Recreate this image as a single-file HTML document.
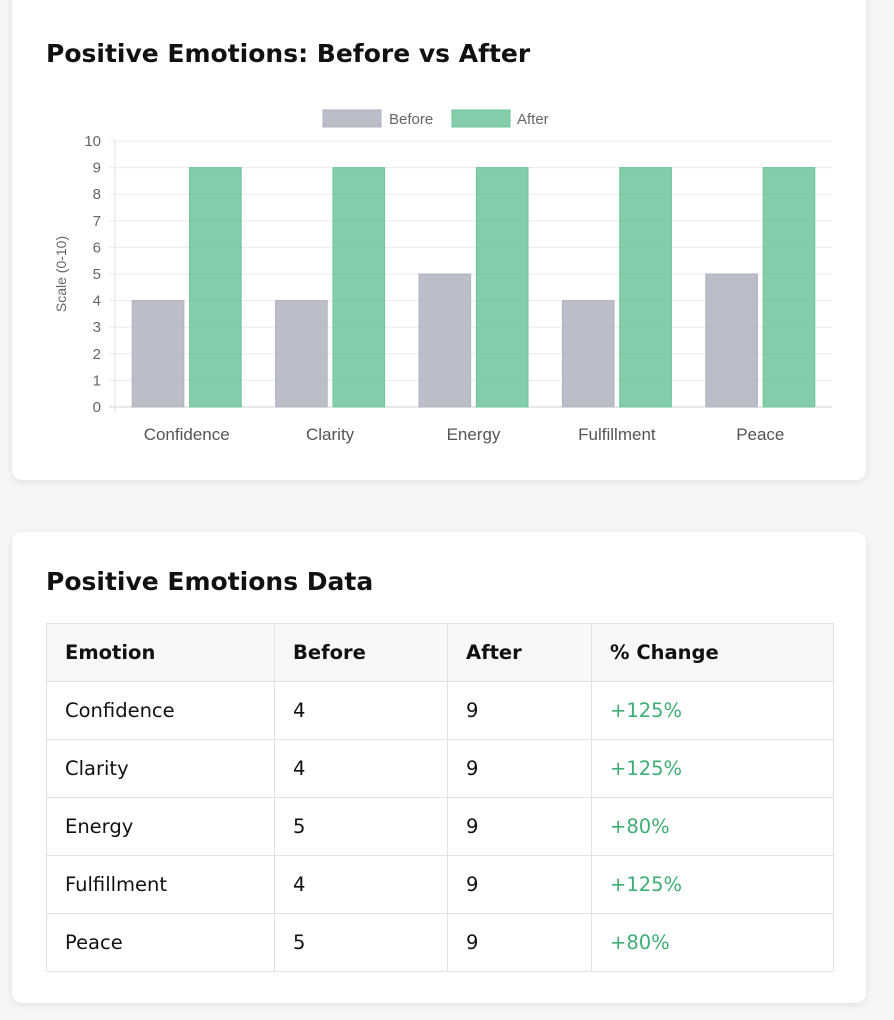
<!DOCTYPE html>
<html><head><meta charset="utf-8">
<style>
body{margin:0;width:894px;height:1020px;background:#f6f6f7;font-family:"DejaVu Sans",Verdana,sans-serif;position:relative;overflow:hidden}
.card{position:absolute;left:12px;width:854px;background:#fff;border-radius:10px;box-shadow:0 2px 8px rgba(0,0,0,0.09)}
h2{position:absolute;left:34px;margin:0;font-size:25px;font-weight:bold;color:#111;white-space:nowrap}
table{position:absolute;left:34px;top:91px;width:788px;border-collapse:collapse;font-size:19.5px;color:#111}
td,th{border:1px solid #dfe3e8;height:57px;padding:0 0 0 18px;text-align:left}
th{background:#f6f8fa;font-weight:bold}
.g{color:#3fae74}
</style></head><body>
<div class="card" style="top:-10px;height:490px">
<h2 style="top:49px">Positive Emotions: Before vs After</h2>
</div>
<svg id="chart" width="894" height="480" style="position:absolute;left:0;top:0" font-family="Liberation Sans, Helvetica, sans-serif"></svg>
<div class="card" style="top:532px;height:471px">
<h2 style="top:35px">Positive Emotions Data</h2>
<table>
<tr><th style="width:209px">Emotion</th><th style="width:154px">Before</th><th style="width:125px">After</th><th>% Change</th></tr>
<tr><td>Confidence</td><td>4</td><td>9</td><td class="g">+125%</td></tr>
<tr><td>Clarity</td><td>4</td><td>9</td><td class="g">+125%</td></tr>
<tr><td>Energy</td><td>5</td><td>9</td><td class="g">+80%</td></tr>
<tr><td>Fulfillment</td><td>4</td><td>9</td><td class="g">+125%</td></tr>
<tr><td>Peace</td><td>5</td><td>9</td><td class="g">+80%</td></tr>
</table>
</div>
<script>
const categories=["Confidence","Clarity","Energy","Fulfillment","Peace"];
const beforeVals=[4,4,5,4,5];
const afterVals=[9,9,9,9,9];
const yTicks=[0,1,2,3,4,5,6,7,8,9,10];
const svg=document.getElementById('chart');
const NS='http://www.w3.org/2000/svg';
const L=115,R=832,T=141,B=407,yMax=10;
const y=v=>B-(B-T)*v/yMax;
const band=(R-L)/categories.length;
const bw=band*0.8/2*0.9;
function mk(t,a,txt){const e=document.createElementNS(NS,t);for(const k in a)e.setAttribute(k,a[k]);if(txt!==undefined)e.textContent=txt;svg.appendChild(e);return e;}
yTicks.forEach(v=>{
 const g=mk('line',{x1:L-6,x2:R,y1:y(v),y2:y(v),stroke:v===0?'#d0d0d0':'#ebebeb','stroke-width':1});
 
 
 const t=mk('text',{x:L-14,y:y(v)+5,'text-anchor':'end','font-size':15,fill:'#666'},v);
 
 
});
const ax=mk('line',{x1:L,x2:L,y1:T,y2:B+6,stroke:'#e2e2e2'});


const yt=mk('text',{x:0,y:0,transform:`translate(66,${(T+B)/2}) rotate(-90)`,'text-anchor':'middle','font-size':14,fill:'#666'},'Scale (0-10)');


categories.forEach((c,i)=>{
 const cx=L+band*(i+0.5);
 const b1=mk('rect',{x:cx-bw-(band*0.8/2-bw)/2,y:y(beforeVals[i]),width:bw,height:B-y(beforeVals[i]),fill:'rgba(170,174,186,0.8)',stroke:'#b0b3bd'});
 
 
 const b2=mk('rect',{x:cx+(band*0.8/2-bw)/2,y:y(afterVals[i]),width:bw,height:B-y(afterVals[i]),fill:'rgba(100,192,150,0.8)',stroke:'#6cc49a'});
 
 
 const t=mk('text',{x:cx,y:440,'text-anchor':'middle','font-size':17,fill:'#555'},c);
 
 
});
const l1=mk('rect',{x:323,y:110,width:58,height:17,fill:'rgba(170,174,186,0.8)',stroke:'#b0b3bd'});


const lt1=mk('text',{x:389,y:124,'font-size':15,fill:'#666'},'Before');


const l2=mk('rect',{x:452,y:110,width:58,height:17,fill:'rgba(100,192,150,0.8)',stroke:'#6cc49a'});


const lt2=mk('text',{x:517,y:124,'font-size':15,fill:'#666'},'After');


</script>
</body></html>
